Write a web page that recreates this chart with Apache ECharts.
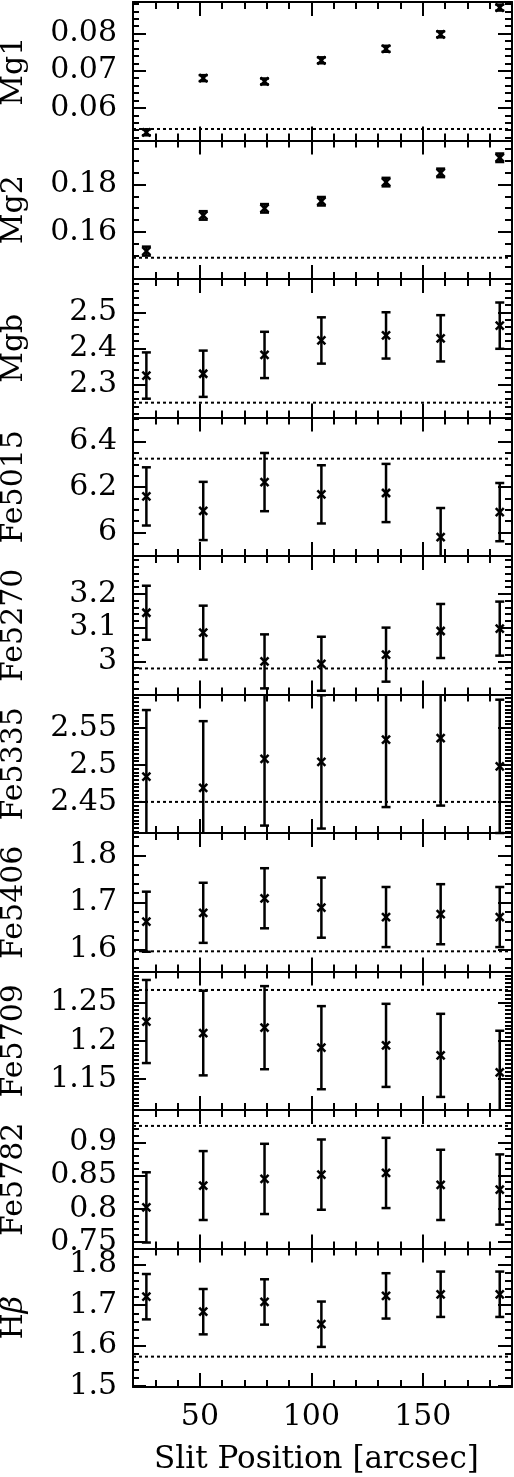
<!DOCTYPE html>
<html>
<head>
<meta charset="utf-8">
<script src="https://cdn.jsdelivr.net/npm/echarts@6/dist/echarts.min.js"></script>
<style>
  html, body { margin: 0; padding: 0; background: #fff; overflow: hidden; }
  #chart { width: 514px; height: 1477px; }
</style>
</head>
<body>
<div id="chart"></div>
<script>
// slit positions (arcsec)
var slitPos = [26, 51.5, 79, 104.5, 133.5, 158, 184.5];

// line-strength indices along the slit, with 1-sigma errors
var mg1 = [0.0534, 0.0680, 0.0671, 0.0728, 0.0759, 0.0798, 0.0870];
var mg1Err = [0.0008, 0.0008, 0.0008, 0.0008, 0.0008, 0.0008, 0.0008];
var mg2 = [0.1518, 0.1669, 0.1699, 0.1729, 0.1810, 0.1849, 0.1913];
var mg2Err = [0.0019, 0.0018, 0.0018, 0.0018, 0.0018, 0.0018, 0.0018];
var mgb = [2.325, 2.330, 2.382, 2.422, 2.436, 2.428, 2.463];
var mgbErr = [0.064, 0.064, 0.064, 0.064, 0.064, 0.064, 0.064];
var fe5015 = [6.159, 6.095, 6.222, 6.168, 6.174, 5.980, 6.090];
var fe5015Err = [0.128, 0.128, 0.128, 0.128, 0.128, 0.128, 0.128];
var fe5270 = [3.144, 3.085, 3.000, 2.993, 3.020, 3.090, 3.097];
var fe5270Err = [0.080, 0.080, 0.080, 0.080, 0.080, 0.080, 0.080];
var fe5335 = [2.484, 2.469, 2.508, 2.504, 2.534, 2.536, 2.498];
var fe5335Err = [0.090, 0.090, 0.090, 0.090, 0.091, 0.091, 0.090];
var fe5406 = [1.659, 1.678, 1.709, 1.689, 1.669, 1.675, 1.669];
var fe5406Err = [0.064, 0.064, 0.064, 0.064, 0.064, 0.064, 0.064];
var fe5709 = [1.225, 1.210, 1.217, 1.191, 1.194, 1.181, 1.159];
var fe5709Err = [0.054, 0.055, 0.054, 0.054, 0.054, 0.054, 0.054];
var fe5782 = [0.802, 0.835, 0.845, 0.8515, 0.854, 0.836, 0.829];
var fe5782Err = [0.053, 0.052, 0.053, 0.053, 0.053, 0.053, 0.053];
var hbeta = [1.721, 1.684, 1.708, 1.653, 1.723, 1.727, 1.727];
var hbetaErr = [0.056, 0.056, 0.056, 0.056, 0.056, 0.056, 0.056];

// dotted reference level of each index
var refLevels = [0.0543, 0.149, 2.25, 6.325, 2.979, 2.45, 1.596, 1.266, 0.925, 1.573];

var panelNames = ['Mg1', 'Mg2', 'Mgb', 'Fe5015', 'Fe5270', 'Fe5335', 'Fe5406', 'Fe5709', 'Fe5782', '{h|H}{b|β}'];
var panelValues = [mg1, mg2, mgb, fe5015, fe5270, fe5335, fe5406, fe5709, fe5782, hbeta];
var panelErrors = [mg1Err, mg2Err, mgbErr, fe5015Err, fe5270Err, fe5335Err, fe5406Err, fe5709Err, fe5782Err, hbetaErr];

// y ranges and tick labels
var yMin = [0.0512, 0.1400, 2.209, 5.897, 2.902, 2.408, 1.553, 1.110, 0.740, 1.498];
var yMax = [0.0885, 0.1986, 2.592, 6.506, 3.312, 2.595, 1.848, 1.290, 0.949, 1.840];
var yMajor = [
  [0.06, 0.07, 0.08],
  [0.16, 0.18],
  [2.3, 2.4, 2.5],
  [6, 6.2, 6.4],
  [3, 3.1, 3.2],
  [2.45, 2.5, 2.55],
  [1.6, 1.7, 1.8],
  [1.15, 1.2, 1.25],
  [0.75, 0.8, 0.85, 0.9],
  [1.5, 1.6, 1.7, 1.8]
];
var yMinorStep = [0.002, 0.005, 0.02, 0.05, 0.02, 0.005, 0.02, 0.005, 0.01, 0.02];

var xMin = 20;
var xMax = 190;
var xMajor = [50, 100, 150];
var xMinor = [30, 40, 60, 70, 80, 90, 110, 120, 130, 140, 160, 170, 180];

var FONT = 'DejaVu Serif';
var panelTop = 2;
var panelH = 138.5;
var ink = {color: '#000', width: 2};

var minorTicks = function (min, max, step) {
  var out = [];
  for (var k = Math.ceil(min / step - 1e-9); k * step <= max + 1e-9; k++) {
    out.push(+(k * step).toFixed(6));
  }
  return out;
};

var xAxisOf = function (gi, position, ticks, len, withLine, withLabels) {
  var ax = {
    type: 'value', gridIndex: gi, position: position, min: xMin, max: xMax,
    splitLine: {show: false},
    axisLine: {show: withLine, onZero: false, lineStyle: ink},
    axisTick: {show: true, inside: true, length: len, customValues: ticks, lineStyle: ink},
    axisLabel: {show: false}
  };
  if (withLabels) {
    ax.axisLabel = {
      show: true, customValues: xMajor, margin: 15,
      fontFamily: FONT, fontSize: 30, color: '#000'
    };
    ax.name = 'Slit Position [arcsec]';
    ax.nameLocation = 'middle';
    ax.nameGap = 57;
    ax.nameTextStyle = {fontFamily: FONT, fontSize: 31, color: '#000', padding: [0, 12, 0, 0]};
  }
  return ax;
};

var yAxisOf = function (gi, position, ticks, len, withLine, withLabels) {
  var ax = {
    type: 'value', gridIndex: gi, position: position, min: yMin[gi], max: yMax[gi],
    splitLine: {show: false},
    axisLine: {show: withLine, onZero: false, lineStyle: ink},
    axisTick: {show: true, inside: true, length: len, customValues: ticks, lineStyle: ink},
    axisLabel: {show: false}
  };
  if (withLabels) {
    ax.axisLabel = {
      show: true, customValues: yMajor[gi], margin: 16,
      fontFamily: FONT, fontSize: 30, color: '#000',
      formatter: function (v) { return String(+(+v).toFixed(4)); }
    };
    ax.name = panelNames[gi];
    ax.nameLocation = 'middle';
    ax.nameRotate = 90;
    ax.nameGap = 104;
    ax.nameTextStyle = {
      fontFamily: FONT, fontSize: 30, color: '#000',
      rich: {
        h: {fontFamily: FONT, fontSize: 30, color: '#000'},
        b: {fontFamily: FONT, fontSize: 30, color: '#000', fontStyle: 'italic'}
      }
    };
  }
  return ax;
};

// error bar with caps plus an "x" marker, clipped to the panel
var renderErrorBar = function (params, api) {
  var x = api.value(0), y = api.value(1), e = api.value(2);
  var c = api.coord([x, y]);
  var top = api.coord([x, y + e])[1];
  var bot = api.coord([x, y - e])[1];
  var cs = params.coordSys;
  var yTop = Math.max(top, cs.y);
  var yBot = Math.min(bot, cs.y + cs.height);
  var style = {stroke: '#000', lineWidth: 2.5, fill: null};
  var cap = 4.5, cr = 4;
  var children = [
    {type: 'line', shape: {x1: c[0], y1: yTop, x2: c[0], y2: yBot}, style: style},
    {type: 'line', shape: {x1: c[0] - cr, y1: c[1] - cr, x2: c[0] + cr, y2: c[1] + cr}, style: style},
    {type: 'line', shape: {x1: c[0] - cr, y1: c[1] + cr, x2: c[0] + cr, y2: c[1] - cr}, style: style}
  ];
  if (top >= cs.y) {
    children.push({type: 'line', shape: {x1: c[0] - cap, y1: top, x2: c[0] + cap, y2: top}, style: style});
  }
  if (bot <= cs.y + cs.height) {
    children.push({type: 'line', shape: {x1: c[0] - cap, y1: bot, x2: c[0] + cap, y2: bot}, style: style});
  }
  return {type: 'group', children: children};
};

var grids = [], xAxes = [], yAxes = [], series = [];
var n = panelNames.length;
for (var i = 0; i < n; i++) {
  grids.push({
    left: 133, right: 2, top: panelTop + i * panelH, height: panelH,
    containLabel: false, outerBoundsMode: 'none'
  });

  var last = i === n - 1;
  xAxes.push(xAxisOf(i, 'bottom', xMinor, 7, true, last));
  xAxes.push(xAxisOf(i, 'bottom', xMajor, 14, false, false));
  xAxes.push(xAxisOf(i, 'top', xMinor, 7, true, false));
  xAxes.push(xAxisOf(i, 'top', xMajor, 14, false, false));

  var minors = minorTicks(yMin[i], yMax[i], yMinorStep[i]);
  yAxes.push(yAxisOf(i, 'left', yMajor[i], 13, true, true));
  yAxes.push(yAxisOf(i, 'left', minors, 6, false, false));
  yAxes.push(yAxisOf(i, 'right', yMajor[i], 14, true, false));
  yAxes.push(yAxisOf(i, 'right', minors, 7, false, false));

  var rows = [];
  for (var j = 0; j < slitPos.length; j++) {
    rows.push([slitPos[j], panelValues[i][j], panelErrors[i][j]]);
  }
  series.push({
    type: 'custom', xAxisIndex: 4 * i, yAxisIndex: 4 * i,
    data: rows, encode: {x: 0, y: 1},
    renderItem: renderErrorBar, silent: true
  });
  series.push({
    type: 'line', xAxisIndex: 4 * i, yAxisIndex: 4 * i,
    data: [[xMin, refLevels[i]], [xMax, refLevels[i]]],
    symbol: 'none', silent: true,
    lineStyle: {color: '#000', width: 2, type: [3, 3]}
  });
}

var chart = echarts.init(document.getElementById('chart'), null, {renderer: 'canvas'});
chart.setOption({
  backgroundColor: '#fff',
  animation: false,
  grid: grids,
  xAxis: xAxes,
  yAxis: yAxes,
  series: series
});
</script>
</body>
</html>
